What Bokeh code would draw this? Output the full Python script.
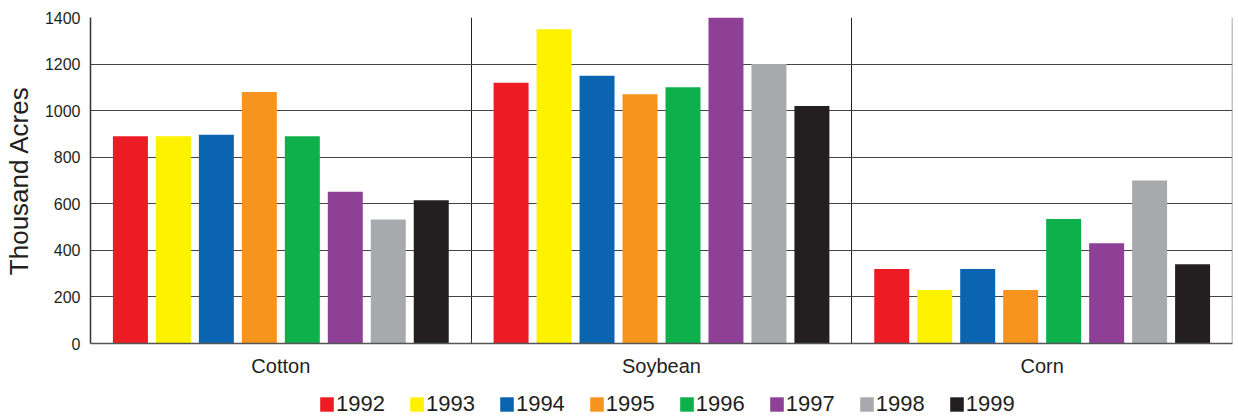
from bokeh.plotting import figure
from bokeh.layouts import column
from bokeh.models import (ColumnDataSource, FixedTicker, Legend, LegendItem,
                          Span, Range1d)
from bokeh.embed import file_html
from bokeh.resources import INLINE

# Planted area by crop and year (thousand acres)
crops = ["Cotton", "Soybean", "Corn"]
years = ["1992", "1993", "1994", "1995", "1996", "1997", "1998", "1999"]
acres_1992 = [890, 1120, 320]
acres_1993 = [890, 1350, 230]
acres_1994 = [897, 1150, 320]
acres_1995 = [1080, 1070, 230]
acres_1996 = [890, 1100, 535]
acres_1997 = [652, 1400, 430]
acres_1998 = [532, 1200, 700]
acres_1999 = [615, 1020, 340]
y_ticks = [0, 200, 400, 600, 800, 1000, 1200, 1400]

series = [acres_1992, acres_1993, acres_1994, acres_1995,
          acres_1996, acres_1997, acres_1998, acres_1999]
colors = ["#ED1C24", "#FFF200", "#0A64B0", "#F7941D",
          "#0DB04B", "#8E3F96", "#A7A9AC", "#231F20"]

TEXT = "#231F20"
FONT = "Liberation Sans"

slot = 0.1129      # spacing between bars inside a crop group
bar_w = 0.0919     # bar width

p = figure(frame_width=1142, frame_height=326, output_backend="svg",
           toolbar_location=None,
           x_range=Range1d(0, 3), y_range=Range1d(0, 1400),
           min_border_left=0, min_border_right=6, min_border_top=17,
           min_border_bottom=37)
p.outline_line_color = None
p.background_fill_color = "white"
p.border_fill_color = "white"

for j, (yr, vals, col) in enumerate(zip(years, series, colors)):
    xs = [i + 0.5 + (j - 3.5) * slot for i in range(len(crops))]
    src = ColumnDataSource(dict(x=xs, top=vals))
    p.vbar(x="x", top="top", width=bar_w, bottom=0, source=src,
           fill_color=col, line_color=None)

# y axis
p.yaxis.ticker = FixedTicker(ticks=y_ticks)
p.yaxis.axis_label = "Thousand Acres"
p.yaxis.axis_label_text_font = FONT
p.yaxis.axis_label_text_font_size = "26px"
p.yaxis.axis_label_text_font_style = "normal"
p.yaxis.axis_label_text_color = TEXT
p.yaxis.axis_label_standoff = 8
p.yaxis.major_label_text_font = FONT
p.yaxis.major_label_text_font_size = "16px"
p.yaxis.major_label_text_color = TEXT
p.yaxis.major_tick_out = 0
p.yaxis.major_tick_in = 0
p.yaxis.minor_tick_out = 0
p.yaxis.minor_tick_in = 0
p.yaxis.major_label_standoff = 10
p.yaxis.axis_line_color = "#333333"
p.yaxis.axis_line_width = 1.5

# x axis: crop names at group centres, small ticks at the group boundaries
p.xaxis.ticker = FixedTicker(ticks=[i + 0.5 for i in range(len(crops))],
                             minor_ticks=[1, 2])
p.xaxis.major_label_overrides = {i + 0.5: c for i, c in enumerate(crops)}
p.xaxis.major_label_text_font = FONT
p.xaxis.major_label_text_font_size = "20px"
p.xaxis.major_label_text_color = TEXT
p.xaxis.major_tick_out = 0
p.xaxis.major_tick_in = 0
p.xaxis.minor_tick_out = 0
p.xaxis.minor_tick_in = 5
p.xaxis.minor_tick_line_color = "#333333"
p.xaxis.major_label_standoff = 11
p.xaxis.axis_line_color = "#555555"
p.xaxis.axis_line_width = 1.5

# grid
p.ygrid.ticker = FixedTicker(ticks=y_ticks)
p.ygrid.grid_line_color = "#444444"
p.ygrid.grid_line_width = 1
p.xgrid.ticker = FixedTicker(ticks=[1, 2])
p.xgrid.grid_line_color = "#222222"
p.xgrid.grid_line_width = 1

# right-hand frame edge
p.add_layout(Span(location=3, dimension="height", line_color="#888888",
                  line_width=1.5))

# legend strip underneath the chart; its renderers sit well outside the
# visible range and only supply the swatch colours
lg = figure(width=1238, height=39, output_backend="svg", toolbar_location=None,
            x_axis_type=None, y_axis_type=None,
            x_range=Range1d(0, 1), y_range=Range1d(0, 1),
            min_border=0)
lg.outline_line_color = None
lg.xgrid.visible = False
lg.ygrid.visible = False
swatches = []
for col in colors:
    swatches.append(lg.vbar(x=[-50], top=[-50], bottom=[-60], width=1,
                            fill_color=col, line_color=None))

legend = Legend(items=[LegendItem(label=yr, renderers=[r])
                       for yr, r in zip(years, swatches)],
                orientation="horizontal", location=(228, 2),
                label_text_font=FONT, label_text_font_size="22px",
                label_text_color=TEXT, label_height=18,
                glyph_width=17, glyph_height=18,
                label_standoff=1, spacing=23, padding=0, margin=0,
                border_line_color=None, background_fill_alpha=0)
lg.add_layout(legend, "center")

open("out.html", "w").write(file_html(column(p, lg, spacing=0), INLINE))
